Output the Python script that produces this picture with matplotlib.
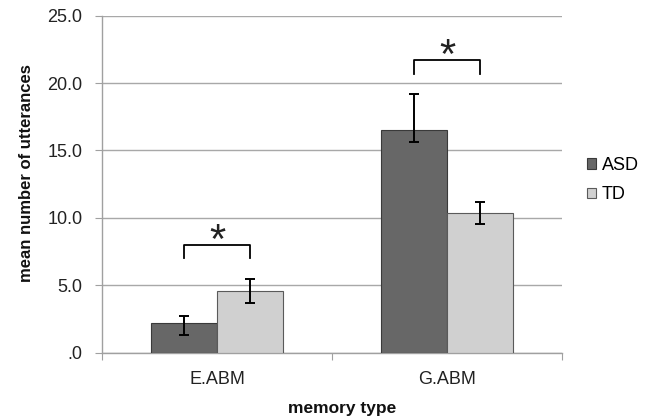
import matplotlib
matplotlib.use("Agg")
import matplotlib.pyplot as plt
import numpy as np

plt.rcParams['font.family'] = ['Liberation Sans', 'DejaVu Sans']

# data
categories = ["E.ABM", "G.ABM"]
asd_mean = [2.2, 16.5]
asd_low = [1.3, 15.65]
asd_high = [2.7, 19.2]
td_mean = [4.6, 10.4]
td_low = [3.7, 9.55]
td_high = [5.5, 11.2]
bracket_top = [8.0, 21.7]
bracket_leg = [7.05, 20.7]
yticks = [0, 5, 10, 15, 20, 25]

fig = plt.figure(figsize=(6.56, 4.19), dpi=100)
ax = fig.add_axes([102 / 656, 66.3 / 419, 460 / 656, 337 / 419])

x = np.arange(len(categories))
w = 0.286
asd_err = [np.array(asd_mean) - np.array(asd_low), np.array(asd_high) - np.array(asd_mean)]
td_err = [np.array(td_mean) - np.array(td_low), np.array(td_high) - np.array(td_mean)]

ax.bar(x - w / 2, asd_mean, w, color="#676767", edgecolor="#3a3a3a", linewidth=0.8,
       label="ASD", zorder=3)
ax.bar(x + w / 2, td_mean, w, color="#d0d0d0", edgecolor="#5a5a5a", linewidth=0.8,
       label="TD", zorder=3)
ax.errorbar(x - w / 2, asd_mean, yerr=asd_err, fmt="none", ecolor="black",
            elinewidth=1.4, capsize=3.5, capthick=1.4, zorder=4)
ax.errorbar(x + w / 2, td_mean, yerr=td_err, fmt="none", ecolor="black",
            elinewidth=1.4, capsize=3.5, capthick=1.4, zorder=4)

# significance brackets
for i in range(len(categories)):
    xl, xr = x[i] - w / 2, x[i] + w / 2
    ax.plot([xl, xl, xr, xr], [bracket_leg[i], bracket_top[i], bracket_top[i], bracket_leg[i]],
            color="black", lw=1.3, zorder=4, solid_joinstyle="round")
    ax.text(x[i], bracket_top[i] - 0.6, "*", ha="center", va="baseline", fontsize=30,
            color="#222222")

ax.set_xlim(-0.5, 1.5)
ax.set_ylim(0, 25)
ax.set_yticks(yticks)
ax.set_yticklabels([("%.1f" % v) if v else ".0" for v in yticks], fontsize=13, color="#222222")
ax.yaxis.grid(True, color="#a8a8a8", linewidth=1.0, zorder=0)
ax.tick_params(axis="y", length=5, color="#a0a0a0", pad=9)

ax.set_xticks([-0.5, 0.5, 1.5])
ax.set_xticklabels(["", "", ""])
ax.set_xticks(x, minor=True)
ax.set_xticklabels(categories, minor=True, fontsize=13, color="#222222")
ax.tick_params(axis="x", which="major", length=5, color="#a0a0a0")
ax.tick_params(axis="x", which="minor", length=0, pad=13)

for s in ["top", "right"]:
    ax.spines[s].set_visible(False)
for s in ["left", "bottom"]:
    ax.spines[s].set_color("#a0a0a0")
    ax.spines[s].set_linewidth(1.0)

ax.set_ylabel("mean number of utterances", fontsize=12, fontweight="bold", color="#111111")
ax.yaxis.set_label_coords(-0.148, 0.533)
ax.set_xlabel("memory type", fontsize=12.5, fontweight="bold", color="#111111")
ax.xaxis.set_label_coords((342 - 102) / 460, -0.142)

leg = ax.legend(loc="center left", bbox_to_anchor=(1.02, 0.512), frameon=False,
                fontsize=13, handlelength=0.5, handleheight=0.5, handletextpad=0.3,
                labelspacing=0.7)

fig.savefig("out.png", dpi=100)
